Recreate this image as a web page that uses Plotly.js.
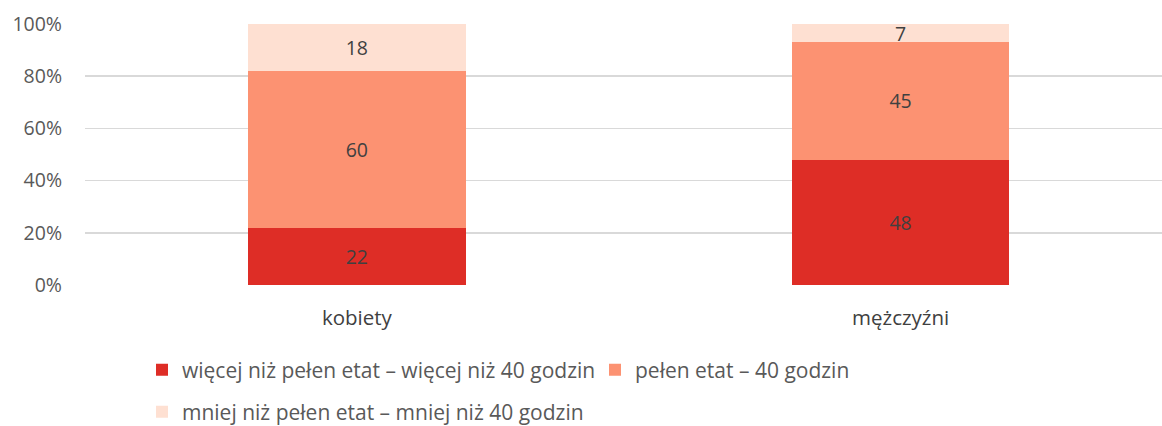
<!DOCTYPE html>
<html>
<head>
<meta charset="utf-8">
<script src="https://cdn.plot.ly/plotly-3.0.1.min.js"></script>
<style>html,body{margin:0;padding:0;background:#fff;}#chart{width:1162px;height:426px;}</style>
</head>
<body>
<div id="chart"></div>
<script>
const categories = ['kobiety', 'mężczyźni'];
const seriesNames = [
  'więcej niż pełen etat – więcej niż 40 godzin',
  'pełen etat – 40 godzin',
  'mniej niż pełen etat – mniej niż 40 godzin'
];
const moreThanFull = [22, 48];
const fullTime = [60, 45];
const lessThanFull = [18, 7];
const yTickVals = [0, 20, 40, 60, 80, 100];
const yTickText = ['0%', '20%', '40%', '60%', '80%', '100%'];

const colors = ['#DE2D26', '#FC9272', '#FEE0D2'];
const seriesValues = [moreThanFull, fullTime, lessThanFull];
const legends = ['legend', 'legend', 'legend2'];
const FONT = 'Open Sans, Liberation Sans, sans-serif';

const traces = seriesValues.map((vals, i) => ({
  type: 'bar',
  x: categories,
  y: vals,
  name: seriesNames[i],
  marker: {color: colors[i], line: {width: 0}},
  width: 0.4,
  text: vals.map(v => String(v)),
  textposition: 'inside',
  insidetextanchor: 'middle',
  textangle: 0,
  constraintext: 'none',
  textfont: {family: FONT, size: 19.5, color: '#404040'},
  hoverinfo: 'skip',
  legend: legends[i]
}));

const layout = {
  width: 1162,
  height: 426,
  margin: {l: 85, r: 0, t: 24, b: 141},
  paper_bgcolor: '#ffffff',
  plot_bgcolor: '#ffffff',
  barmode: 'stack',
  bargap: 0.6,
  font: {family: FONT, color: '#595959'},
  xaxis: {
    type: 'category',
    range: [-0.5, 1.4807],
    showgrid: false,
    zeroline: false,
    showline: false,
    ticks: '',
    ticklabelstandoff: 18,
    tickfont: {family: FONT, size: 20.5, color: '#404040'}
  },
  yaxis: {
    range: [0, 100],
    tickvals: yTickVals,
    ticktext: yTickText,
    showgrid: true,
    gridcolor: '#d9d9d9',
    gridwidth: 1.5,
    zeroline: false,
    showline: false,
    ticks: '',
    ticklabelstandoff: 22,
    tickfont: {family: FONT, size: 19.5, color: '#595959'}
  },
  showlegend: true,
  legend: {
    orientation: 'h',
    xref: 'container', yref: 'container',
    x: 142 / 1162, y: 1 - 370 / 426,
    xanchor: 'left', yanchor: 'middle',
    font: {family: FONT, size: 21, color: '#595959'},
    traceorder: 'normal',
    itemwidth: 30,
    entrywidth: 408
  },
  legend2: {
    orientation: 'h',
    xref: 'container', yref: 'container',
    x: 142 / 1162, y: 1 - 412 / 426,
    xanchor: 'left', yanchor: 'middle',
    font: {family: FONT, size: 21, color: '#595959'},
    itemwidth: 30
  }
};

Plotly.newPlot('chart', traces, layout, {displayModeBar: false, staticPlot: true});
</script>
</body>
</html>
